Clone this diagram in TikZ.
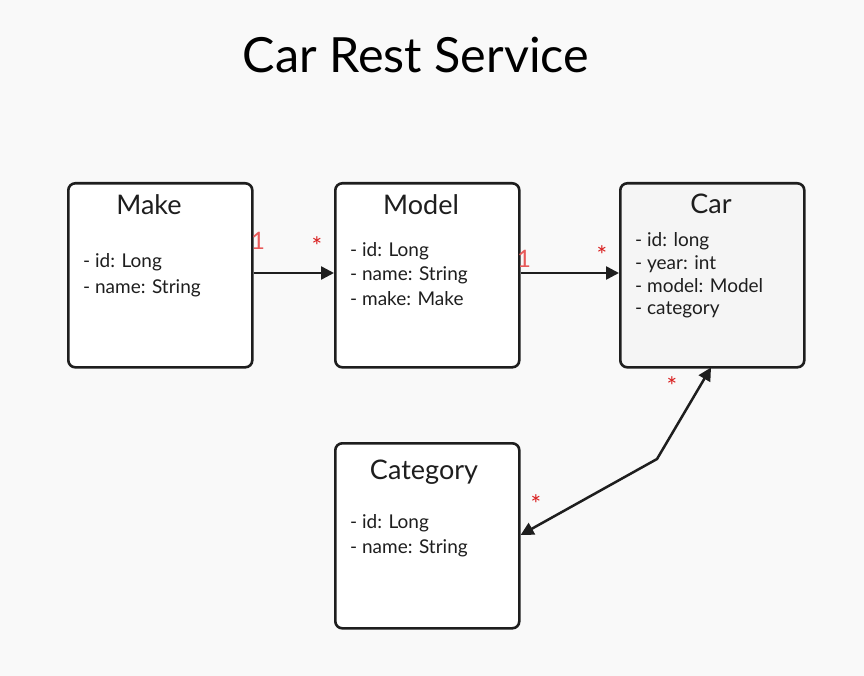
\documentclass[tikz,border=0pt]{standalone}
\usepackage{fontspec}
\setmainfont{Lato}
\usetikzlibrary{arrows.meta}
\definecolor{bg}{HTML}{F9F9F9}
\definecolor{carfill}{HTML}{F5F5F5}
\definecolor{ink}{HTML}{1E1E1E}
\definecolor{onered}{HTML}{E85A5A}
\definecolor{starred}{HTML}{D91C1C}
\tikzset{
  entity/.style={draw=ink, line width=2.6pt, rounded corners=7pt, fill=white, minimum width=184pt, minimum height=184pt, inner sep=0pt},
  etitle/.style={font=\fontsize{27}{30}\selectfont, text=ink, anchor=base, inner sep=0pt},
  attr/.style={font=\fontsize{19}{22}\selectfont, text=ink, anchor=base west, inner sep=0pt},
  link/.style={draw=ink, line width=2.5pt, -{Triangle[length=13pt,width=13pt]}},
  one/.style={text=onered, font=\fontsize{24}{26}\selectfont, anchor=base, inner sep=0pt},
  many/.style={text=starred, font=\fontsize{25}{26}\selectfont, anchor=base, inner sep=0pt},
}
\begin{document}
\begin{tikzpicture}[x=1pt,y=-1pt]
\fill[bg] (0,0) rectangle (864,676);
\useasboundingbox (0,0) rectangle (864,676);
\node[font=\fontsize{48.5}{52}\selectfont, text=black, anchor=base, inner sep=0pt] (title) at (416,73) {Car Rest Service};

\node[entity, anchor=north west] (make) at (67,182) {};
\node[entity, anchor=north west] (model) at (334,182) {};
\node[entity, anchor=north west, fill=carfill] (car) at (619,182) {};
\node[entity, anchor=north west, minimum height=185pt] (cat) at (334,442) {};

\node[etitle] (maket) at (149,215) {Make};
\node[etitle] (modelt) at (421,215) {Model};
\node[etitle] (cart) at (711,214) {Car};
\node[etitle] (catt) at (424,479) {Category};

\node[attr] (make1) at (83,268) {- id: Long};
\node[attr] (make2) at (83,293) {- name: String};

\node[attr] (model1) at (350,256) {- id: Long};
\node[attr] (model2) at (350,280.5) {- name: String};
\node[attr] (model3) at (350,305) {- make: Make};

\node[attr] (car1) at (635,247) {- id: long};
\node[attr] (car2) at (635,269.5) {- year: int};
\node[attr] (car3) at (635,292) {- model: Model};
\node[attr] (car4) at (635,314.5) {- category};

\node[attr] (cat1) at (350,528) {- id: Long};
\node[attr] (cat2) at (350,553) {- name: String};

\coordinate (bend) at (657,459);
\draw[link] (make.east |- 0,273) -- (model.west |- 0,273);
\draw[link] (model.east |- 0,273) -- (car.west |- 0,273);
\draw[link, {Triangle[length=13pt,width=13pt]}-{Triangle[length=13pt,width=13pt]}] (cat.east |- 0,535) -- (bend) -- (711,367.5);

\node[one] (l1) at (258,250) {1};
\node[many] (s1) at (317,255) {*};
\node[one] (l2) at (524,267) {1};
\node[many] (s2) at (602,265) {*};
\node[many] (s3) at (672,395) {*};
\node[many] (s4) at (536,513) {*};
\end{tikzpicture}
\end{document}
